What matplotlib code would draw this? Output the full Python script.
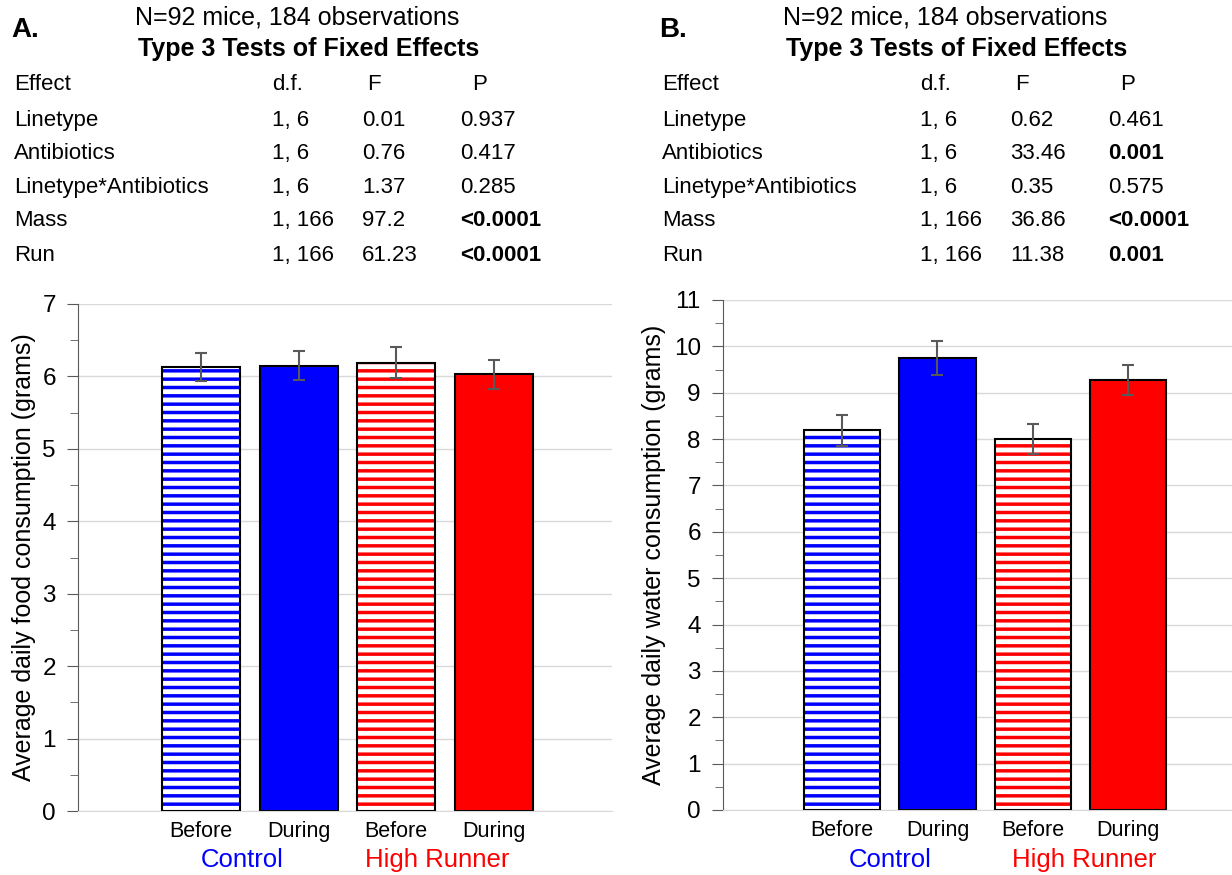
import matplotlib
matplotlib.use("Agg")
import matplotlib.pyplot as plt
from matplotlib.ticker import MultipleLocator

plt.rcParams['font.family'] = ['Liberation Sans', 'DejaVu Sans']
plt.rcParams['hatch.linewidth'] = 2.5

# data
conditions = ["Before", "During", "Before", "During"]
groups = ["Control", "High Runner"]
food_mean = [6.13, 6.15, 6.19, 6.03]
food_err = [0.20, 0.20, 0.21, 0.20]
water_mean = [8.19, 9.75, 8.00, 9.27]
water_err = [0.33, 0.37, 0.33, 0.32]

effects = ["Linetype", "Antibiotics", "Linetype*Antibiotics", "Mass", "Run"]
dfs = ["1, 6", "1, 6", "1, 6", "1, 166", "1, 166"]
food_F = ["0.01", "0.76", "1.37", "97.2", "61.23"]
food_P = ["0.937", "0.417", "0.285", "<0.0001", "<0.0001"]
food_bold = [False, False, False, True, True]
water_F = ["0.62", "33.46", "0.35", "36.86", "11.38"]
water_P = ["0.461", "0.001", "0.575", "<0.0001", "0.001"]
water_bold = [False, True, False, True, True]

bar_colors = ["#0000FF", "#0000FF", "#FF0000", "#FF0000"]
hatched = [True, False, True, False]

W, H = 1232, 875
fig = plt.figure(figsize=(W / 100, H / 100), dpi=100)


def px(x, y):
    return x / W, 1 - y / H


def draw_table(x0, letter, Fvals, Pvals, bold):
    fig.text(*px(x0 - 3, 30), letter, fontsize=20, fontweight='bold', va='center')
    fig.text(*px(x0 + 283, 18), "N=92 mice, 184 observations", fontsize=18,
             ha='center', va='center')
    fig.text(*px(x0 + 295, 49), "Type 3 Tests of Fixed Effects", fontsize=18,
             fontweight='bold', ha='center', va='center')
    cols = [x0, x0 + 258, x0 + 348, x0 + 446]
    fs = 16
    off = 8  # caps centre -> baseline
    fig.text(*px(cols[0], 82 + off), "Effect", fontsize=fs, va='baseline')
    fig.text(*px(cols[1], 82 + off), "d.f.", fontsize=fs, va='baseline')
    fig.text(*px(cols[2] + 5, 82 + off), "F", fontsize=fs, va='baseline')
    fig.text(*px(cols[3] + 12, 82 + off), "P", fontsize=fs, va='baseline')
    rows_y = [118, 151, 185, 218, 253]
    for i, y in enumerate(rows_y):
        fig.text(*px(cols[0], y + off), effects[i], fontsize=fs, va='baseline')
        fig.text(*px(cols[1], y + off), dfs[i], fontsize=fs, va='baseline')
        fig.text(*px(cols[2], y + off), Fvals[i], fontsize=fs, va='baseline')
        fig.text(*px(cols[3], y + off), Pvals[i], fontsize=fs, va='baseline',
                 fontweight='bold' if bold[i] else 'normal')


def draw_panel(box, means, errs, ymax, xlim, ylabel, label_x, group_x):
    l, r, b, t = box
    ax = fig.add_axes([l / W, 1 - b / H, (r - l) / W, (b - t) / H])
    x = list(range(len(means)))
    for i in x:
        if hatched[i]:
            ax.bar(i, means[i], width=0.8, color='white', edgecolor=bar_colors[i],
                   hatch='--', linewidth=0, zorder=2)
            ax.bar(i, means[i], width=0.8, fill=False, edgecolor='black',
                   linewidth=1.5, zorder=3)
        else:
            ax.bar(i, means[i], width=0.8, color=bar_colors[i], edgecolor='black',
                   linewidth=1.5, zorder=2)
    ax.errorbar(x, means, yerr=errs, fmt='none', ecolor='#595959',
                elinewidth=1.5, capsize=4, capthick=1.5, zorder=4)
    ax.set_xlim(*xlim)
    ax.set_ylim(0, ymax)
    ax.yaxis.set_major_locator(MultipleLocator(1))
    ax.yaxis.set_minor_locator(MultipleLocator(0.5))
    ax.grid(axis='y', color='#d9d9d9', linewidth=1, zorder=0)
    ax.set_axisbelow(True)
    for s in ['top', 'right']:
        ax.spines[s].set_visible(False)
    ax.spines['left'].set_color('#595959')
    ax.spines['bottom'].set_color('#d9d9d9')
    ax.tick_params(axis='y', which='major', length=8, color='#595959',
                   labelsize=17.5, pad=8)
    ax.tick_params(axis='y', which='minor', length=6, color='#595959')
    ax.set_xticks(x)
    ax.set_xticklabels(conditions, fontsize=15.5)
    ax.tick_params(axis='x', length=0, pad=7)
    fig.text(*px(label_x, (t + b) / 2), ylabel, fontsize=18, rotation=90,
             ha='center', va='center')
    for gx, g, c in zip(group_x, groups, ["#0000FF", "#FF0000"]):
        fig.text(ax.transData.transform((gx, 0))[0] / W, 1 - 860 / H, g,
                 color=c, fontsize=18.5, ha='center', va='center')
    return ax


draw_table(14, "A.", food_F, food_P, food_bold)
draw_table(662, "B.", water_F, water_P, water_bold)

draw_panel((78, 612, 811, 304), food_mean, food_err, 7, (-1.26, 4.21),
           "Average daily food consumption (grams)", 24, (0.42, 2.42))
draw_panel((723, 1232, 810, 300), water_mean, water_err, 11, (-1.25, 4.09),
           "Average daily water consumption (grams)", 654, (0.5, 2.54))

fig.savefig("out.png", dpi=100)
